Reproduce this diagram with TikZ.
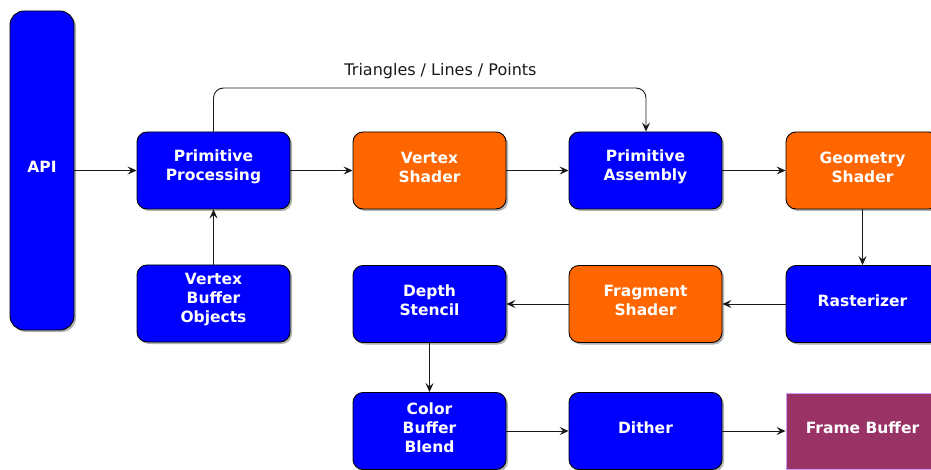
\documentclass[tikz,border=0pt]{standalone}
\usepackage{fontspec}
\setmainfont{DejaVu Sans}
\usetikzlibrary{arrows.meta,shadows}
\definecolor{boxblue}{HTML}{0000FF}
\definecolor{boxorange}{HTML}{FF6600}
\definecolor{fbfill}{HTML}{993366}
\definecolor{fbline}{HTML}{CC99FF}
\begin{document}
\begin{tikzpicture}[x=1pt,y=-1pt,
  txt/.style={text=white, font=\fontsize{15.5}{19}\bfseries\selectfont, align=center, inner sep=0pt, yshift=3.5pt},
  base/.style={draw=black, line width=0.9pt, rounded corners=10pt,
    minimum width=153pt, minimum height=77pt, inner sep=0pt,
    drop shadow={shadow xshift=2pt, shadow yshift=-2pt, opacity=0.3, fill=black},
    label={[txt]center:#1}},
  bluebox/.style={base={#1}, fill=boxblue},
  orangebox/.style={base={#1}, fill=boxorange},
  fbbox/.style={draw=fbline, line width=0.9pt, fill=fbfill,
    minimum width=153pt, minimum height=76pt, inner sep=0pt,
    label={[txt]center:#1}},
  conn/.style={draw=black!90, line width=0.9pt, -{Stealth[length=9pt,width=8pt,inset=3.5pt]}}
]
\useasboundingbox (0,0) rectangle (931,470);
\node[bluebox={API}, minimum width=64pt, minimum height=319pt, rounded corners=14pt] (api) at (42,170.5) {};
\node[bluebox={Primitive\\Processing}] (pp) at (213.5,170.5) {};
\node[orangebox={Vertex\\Shader}] (vs) at (429.5,170.5) {};
\node[bluebox={Primitive\\Assembly}] (pa) at (645.5,170.5) {};
\node[orangebox={Geometry\\Shader}] (gs) at (862.5,170.5) {};
\node[bluebox={Vertex\\Buffer\\Objects}] (vbo) at (213.5,303.5) {};
\node[bluebox={Depth\\Stencil}] (ds) at (429.5,304) {};
\node[orangebox={Fragment\\Shader}] (fs) at (645.5,304) {};
\node[bluebox={Rasterizer}] (ras) at (862.5,304) {};
\node[bluebox={Color\\Buffer\\Blend}] (cbb) at (429.5,431) {};
\node[bluebox={Dither}] (di) at (645.5,431) {};
\node[fbbox={Frame Buffer}] (fb) at (862.5,431) {};

\coordinate (t1) at (213.5,88);
\coordinate (t2) at (646,88);
\node[font=\fontsize{16}{19}\selectfont, text=black!90, inner sep=0pt] (lbl) at (440.5,71) {Triangles / Lines / Points};

\draw[conn] (api.east |- pp.west) -- (pp.west);
\draw[conn] (pp) -- (vs);
\draw[conn] (vs) -- (pa);
\draw[conn] (pa) -- (gs);
\draw[conn] (gs) -- (ras);
\draw[conn] (ras) -- (fs);
\draw[conn] (fs) -- (ds);
\draw[conn] (ds) -- (cbb);
\draw[conn] (cbb) -- (di);
\draw[conn] (di) -- (fb);
\draw[conn] (vbo) -- (pp);
\draw[conn, rounded corners=10pt] (pp.north) -- (t1) -- (t2) -- (t2 |- pa.north);
\end{tikzpicture}
\end{document}
